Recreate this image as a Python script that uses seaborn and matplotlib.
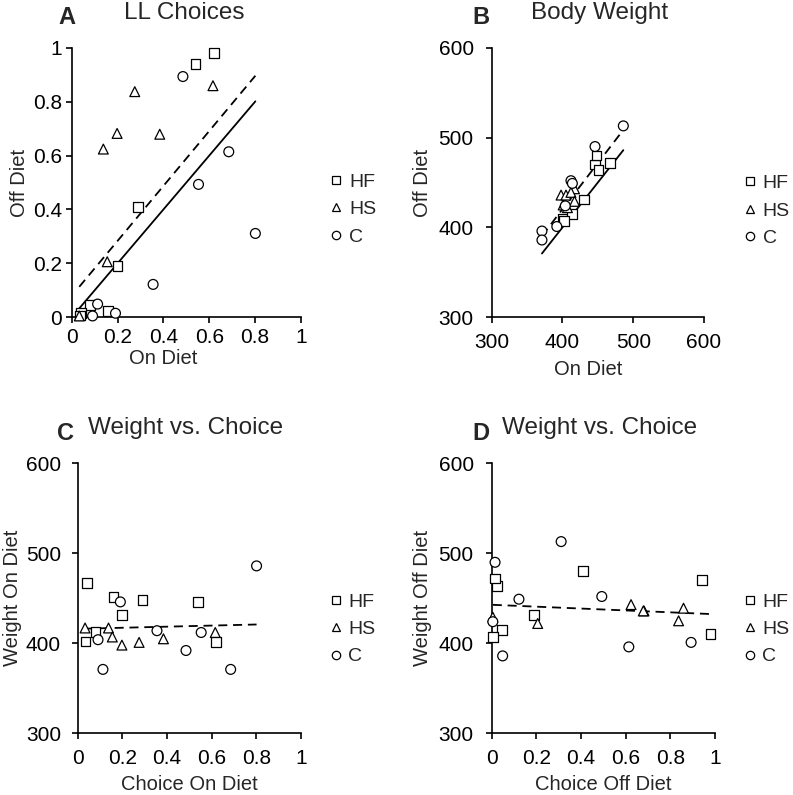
import numpy as np
import pandas as pd
import matplotlib
matplotlib.use("Agg")
import matplotlib.pyplot as plt
import seaborn as sns
from matplotlib.ticker import FuncFormatter

# --- data (one entry per animal) ---
groups = ["HF"] * 8 + ["HS"] * 7 + ["C"] * 8

choice_on = [0.62, 0.54, 0.29, 0.20, 0.08, 0.16, 0.04, 0.035,
             0.138, 0.198, 0.275, 0.384, 0.616, 0.155, 0.033,
             0.485, 0.685, 0.553, 0.801, 0.355, 0.113, 0.091, 0.191]
choice_off = [0.98, 0.94, 0.41, 0.19, 0.045, 0.022, 0.015, 0.007,
              0.624, 0.682, 0.837, 0.679, 0.859, 0.206, 0.005,
              0.893, 0.614, 0.493, 0.311, 0.122, 0.049, 0.005, 0.015]
weight_on = [401, 446, 448, 431, 413, 451, 467, 402,
             417, 398, 401, 405, 412, 407, 417,
             392, 371, 412, 486, 414, 371, 404, 446]
weight_off = [410, 470, 480, 431, 415, 464, 472, 407,
              443, 436, 425, 436, 439, 422, 429,
              401, 396, 452, 513, 449, 386, 424, 490]

group_order = ["HF", "HS", "C"]
group_markers = {"HF": "s", "HS": "^", "C": "o"}

df = pd.DataFrame({
    "group": groups,
    "choice_on": choice_on,
    "choice_off": choice_off,
    "weight_on": weight_on,
    "weight_off": weight_off,
})

sns.set_style("ticks")
plt.rcParams["font.family"] = ["Liberation Sans", "DejaVu Sans"]
plt.rcParams["axes.linewidth"] = 1.2
plt.rcParams["xtick.major.width"] = 1.2
plt.rcParams["ytick.major.width"] = 1.2
plt.rcParams["xtick.major.size"] = 4
plt.rcParams["ytick.major.size"] = 4

W, H = 793, 795
fig = plt.figure(figsize=(W / 100, H / 100), dpi=100)


def px_axes(x0, x1, y0, y1):
    # pixel box (left, right, top, bottom) -> figure axes
    return fig.add_axes([x0 / W, 1 - y1 / H, (x1 - x0) / W, (y1 - y0) / H])


panels = [
    dict(box=(71.7, 301, 47.7, 317.3), x="choice_on", y="choice_off",
         lim=(0, 1), ylim=(0, 1), ticks=np.arange(0, 1.01, 0.2), yticks=np.arange(0, 1.01, 0.2),
         xlabel="On Diet", ylabel="Off Diet", identity=True, xlab_x=0.398,
         letter="A", title="LL Choices", lpos=(67, 18), tpos=(184, 13),
         leg=(1.12, 0.40), xpad=1, ypad=3, xtickpad=4, ytickpad=3),
    dict(box=(491.7, 704, 47.7, 317.3), x="weight_on", y="weight_off",
         lim=(300, 600), ylim=(300, 600), ticks=[300, 400, 500, 600], yticks=[300, 400, 500, 600],
         xlabel="On Diet", ylabel="Off Diet", identity=True, xlab_x=0.454,
         letter="B", title="Body Weight", lpos=(480.5, 18), tpos=(599.5, 13),
         leg=(1.18, 0.395), xpad=6, ypad=5, xtickpad=7, ytickpad=9),
    dict(box=(77.7, 301, 463.3, 733.3), x="choice_on", y="weight_on",
         lim=(0, 1), ylim=(300, 600), ticks=np.arange(0, 1.01, 0.2), yticks=[300, 400, 500, 600],
         xlabel="Choice On Diet", ylabel="Weight On Diet", identity=False, xlab_x=0.5,
         letter="C", title="Weight vs. Choice", lpos=(66, 433), tpos=(185.7, 428),
         leg=(1.12, 0.385), xpad=5, ypad=3, xtickpad=7, ytickpad=8),
    dict(box=(491.7, 715, 463.3, 733.3), x="choice_off", y="weight_off",
         lim=(0, 1), ylim=(300, 600), ticks=np.arange(0, 1.01, 0.2), yticks=[300, 400, 500, 600],
         xlabel="Choice Off Diet", ylabel="Weight Off Diet", identity=False, xlab_x=0.5,
         letter="D", title="Weight vs. Choice", lpos=(481, 433), tpos=(600, 428),
         leg=(1.12, 0.385), xpad=5, ypad=5, xtickpad=7, ytickpad=9),
]

fmt = FuncFormatter(lambda v, _: f"{v:g}")

for p in panels:
    ax = px_axes(*p["box"])
    sns.scatterplot(data=df, x=p["x"], y=p["y"], style="group", style_order=group_order,
                    markers=group_markers, color="white", edgecolor="black",
                    linewidth=0.9, s=50, ax=ax, zorder=3)
    # regression fit (dashed)
    sns.regplot(data=df, x=p["x"], y=p["y"], scatter=False, ci=None, truncate=True,
                color="black", line_kws=dict(lw=1.3, ls=(0, (5, 3.2))), ax=ax)
    if p["identity"]:
        xs = np.array([df[p["x"]].min(), df[p["x"]].max()])
        ax.plot(xs, xs, color="black", lw=1.3, zorder=2)

    ax.set_xlim(*p["lim"])
    ax.set_ylim(*p["ylim"])
    ax.set_xticks(p["ticks"])
    ax.set_yticks(p["yticks"])
    ax.xaxis.set_major_formatter(fmt)
    ax.yaxis.set_major_formatter(fmt)
    ax.tick_params(axis="x", labelsize=15, pad=p["xtickpad"], colors="black")
    ax.tick_params(axis="y", labelsize=15, pad=p["ytickpad"], colors="black")
    ax.set_xlabel(p["xlabel"], fontsize=14.5, labelpad=p["xpad"])
    ax.set_ylabel(p["ylabel"], fontsize=14.5, labelpad=p["ypad"])
    ax.xaxis.label.set_x(p["xlab_x"])
    sns.despine(ax=ax)
    for s in ("left", "bottom"):
        ax.spines[s].set_color("black")
    for c in ax.collections:
        c.set_clip_on(False)

    handles, labels = ax.get_legend_handles_labels()
    ax.legend(handles, labels, loc="center left", bbox_to_anchor=p["leg"], frameon=False,
              fontsize=14, markerscale=0.85, handlelength=0.8, handletextpad=0.25,
              labelspacing=0.5, borderpad=0, borderaxespad=0, title=None)

    fig.text(p["lpos"][0] / W, 1 - p["lpos"][1] / H, p["letter"], fontsize=17,
             fontweight="bold", ha="center", va="center")
    fig.text(p["tpos"][0] / W, 1 - p["tpos"][1] / H, p["title"], fontsize=17.5,
             ha="center", va="center")

fig.savefig("out.png", dpi=100)
